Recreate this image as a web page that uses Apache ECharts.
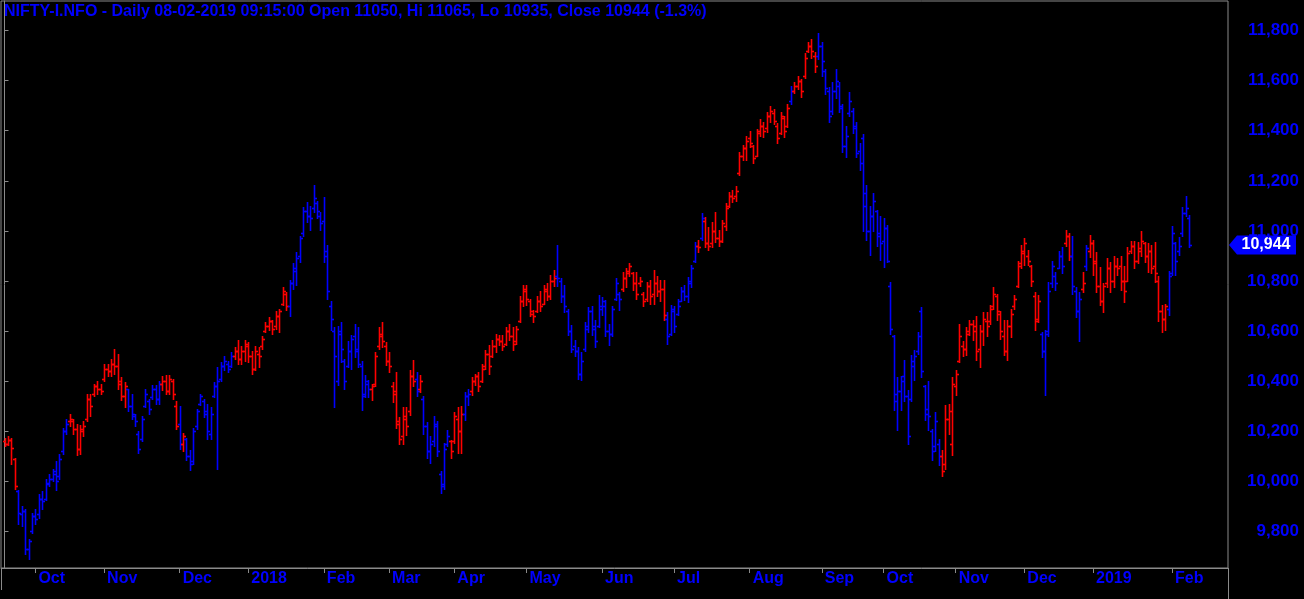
<!DOCTYPE html>
<html><head><meta charset="utf-8">
<script src="https://cdn.jsdelivr.net/npm/echarts@6/dist/echarts.min.js"></script>
<style>html,body{margin:0;padding:0;background:#000;}#c{width:1304px;height:599px;}</style>
</head><body><div id="c"></div>
<script>
const titleText = 'NIFTY-I.NFO - Daily 08-02-2019 09:15:00 Open 11050, Hi 11065, Lo 10935, Close 10944 (-1.3%)';

const opens = [10160,10150,10165,10090,9960,9870,9880,9730,9800,9860,
9870,9930,9930,9995,10010,10040,10020,10120,10200,10240,
10240,10210,10130,10200,10250,10330,10350,10380,10370,10410,
10450,10440,10470,10460,10400,10340,10370,10300,10260,10190,
10170,10300,10320,10335,10370,10330,10390,10400,10360,10400,
10300,10230,10150,10170,10100,10080,10220,10310,10320,10280,
10190,10340,10380,10410,10460,10470,10460,10500,10520,10490,
10520,10540,10500,10450,10510,10540,10600,10620,10640,10620,
10660,10710,10750,10700,10790,10840,10900,10990,11080,11060,
11090,11110,11060,11040,10920,10700,10600,10400,10600,10480,
10460,10520,10580,10530,10460,10350,10390,10370,10390,10540,
10590,10540,10480,10380,10360,10230,10180,10250,10280,10420,
10410,10370,10330,10220,10120,10160,10220,10030,9990,10150,
10160,10160,10250,10200,10270,10340,10360,10400,10420,10400,
10460,10510,10500,10540,10570,10560,10550,10600,10580,10560,
10640,10720,10770,10720,10670,10680,10720,10710,10760,10740,
10800,10820,10800,10740,10680,10600,10540,10520,10430,10530,
10620,10680,10610,10620,10700,10700,10600,10590,10730,10750,
10770,10810,10840,10830,10790,10790,10750,10730,10780,10750,
10790,10760,10770,10650,10590,10680,10670,10720,10760,10740,
10790,10880,10940,10970,11040,10950,10950,11000,10970,10960,
11020,11100,11140,11140,11230,11300,11330,11370,11340,11300,
11400,11420,11410,11460,11470,11420,11390,11450,11420,11520,
11560,11580,11600,11620,11720,11740,11700,11700,11740,11640,
11560,11480,11560,11580,11490,11340,11470,11480,11420,11320,
11370,11150,11000,11060,11080,10990,10960,11010,10780,10580,
10350,10360,10420,10340,10330,10460,10520,10680,10380,10270,
10200,10140,10150,10100,10070,10250,10150,10380,10480,10540,
10530,10600,10630,10620,10530,10600,10640,10640,10700,10740,
10670,10580,10520,10620,10700,10780,10870,10920,10900,10860,
10740,10650,10590,10520,10600,10790,10820,10850,10900,10950,
10980,10900,10760,10680,10770,10860,10920,10950,10880,10780,
10720,10790,10850,10800,10860,10860,10800,10800,10920,10940,
10880,10920,10950,10900,10920,10860,10800,10680,10650,10690,
10830,10950,10920,10990,11070,11050];

const highs = [10175,10180,10175,10095,9965,9900,9890,9770,9875,9890,
9950,9960,10010,10030,10050,10080,10110,10215,10250,10270,
10250,10230,10225,10240,10350,10350,10390,10400,10390,10470,
10470,10490,10530,10510,10415,10395,10370,10350,10270,10200,
10260,10370,10330,10385,10385,10400,10420,10425,10425,10410,
10320,10300,10195,10175,10125,10215,10290,10350,10330,10310,
10295,10395,10455,10475,10500,10480,10515,10535,10565,10540,
10565,10555,10520,10540,10535,10580,10635,10655,10645,10680,
10690,10775,10755,10805,10870,10915,10980,11095,11115,11100,
11185,11120,11075,11135,10945,10720,10615,10620,10635,10490,
10560,10585,10630,10615,10480,10425,10405,10390,10515,10615,
10635,10555,10515,10395,10435,10255,10295,10295,10445,10485,
10435,10425,10340,10235,10180,10260,10240,10040,10155,10205,
10165,10275,10295,10300,10355,10370,10415,10430,10435,10470,
10525,10545,10565,10590,10585,10585,10615,10630,10615,10620,
10740,10785,10785,10730,10685,10740,10760,10785,10790,10825,
10845,10945,10810,10785,10690,10625,10565,10535,10515,10635,
10695,10700,10645,10745,10735,10725,10630,10700,10810,10755,
10835,10850,10870,10835,10835,10815,10755,10795,10805,10845,
10820,10805,10805,10675,10705,10700,10730,10775,10785,10815,
10865,10955,10965,11070,11055,11015,11035,11075,11005,11045,
11110,11155,11165,11180,11315,11345,11380,11400,11345,11405,
11445,11435,11475,11500,11485,11430,11475,11460,11505,11580,
11595,11620,11605,11710,11755,11765,11715,11790,11755,11645,
11575,11595,11645,11595,11505,11420,11555,11490,11435,11350,
11385,11185,11100,11150,11085,11060,11050,11025,10795,10585,
10415,10420,10485,10365,10505,10525,10595,10695,10385,10400,
10210,10275,10170,10125,10305,10310,10415,10445,10630,10560,
10615,10645,10645,10660,10625,10675,10675,10705,10775,10750,
10680,10645,10645,10690,10745,10880,10945,10970,10925,10865,
10755,10745,10595,10605,10795,10880,10835,10920,10935,11005,
10990,10980,10775,10755,10835,10945,10985,10965,10915,10855,
10790,10890,10875,10900,10890,10900,10860,10935,10960,10960,
10955,11000,10955,10950,10945,10955,10820,10705,10710,10840,
11020,10955,10975,11095,11140,11065];

const lows = [10140,10145,10070,9970,9830,9820,9710,9690,9795,9830,
9855,9890,9925,9980,10000,9965,10010,10110,10190,10220,
10190,10105,10110,10180,10240,10260,10340,10350,10350,10400,
10420,10420,10430,10370,10325,10295,10280,10250,10220,10115,
10160,10295,10270,10330,10310,10310,10365,10350,10350,10330,
10210,10130,10120,10085,10045,10070,10210,10305,10255,10170,
10170,10335,10050,10400,10445,10435,10455,10490,10470,10470,
10480,10475,10430,10445,10455,10530,10595,10605,10590,10610,
10595,10705,10685,10660,10770,10785,10875,10980,11035,11005,
11075,11050,11005,10875,10730,10605,10295,10385,10475,10370,
10455,10450,10495,10455,10285,10335,10335,10325,10380,10530,
10535,10465,10435,10315,10215,10150,10150,10185,10265,10380,
10340,10355,10190,10095,10075,10140,10100,9955,9970,10140,
10095,10155,10115,10115,10245,10305,10345,10385,10360,10395,
10450,10430,10495,10515,10545,10525,10545,10565,10525,10550,
10635,10700,10705,10660,10635,10675,10680,10710,10725,10730,
10780,10780,10715,10675,10585,10515,10500,10410,10405,10520,
10595,10585,10535,10615,10665,10580,10545,10580,10725,10685,
10760,10775,10820,10765,10730,10780,10700,10720,10710,10710,
10740,10720,10645,10550,10585,10595,10665,10720,10725,10715,
10775,10875,10915,10965,10935,10925,10935,10955,10940,10955,
11005,11095,11115,11120,11225,11285,11285,11335,11270,11300,
11380,11375,11395,11435,11425,11350,11385,11375,11415,11505,
11550,11565,11535,11610,11715,11690,11635,11685,11620,11545,
11435,11465,11530,11475,11315,11295,11460,11390,11295,11245,
11000,10965,10905,11000,10940,10885,10855,10875,10590,10285,
10205,10285,10320,10150,10320,10405,10510,10415,10245,10205,
10085,10120,10065,10020,10050,10190,10105,10345,10475,10500,
10505,10585,10565,10485,10455,10545,10580,10630,10690,10645,
10570,10505,10485,10575,10690,10775,10850,10865,10865,10780,
10605,10635,10495,10345,10580,10775,10765,10850,10830,10940,
10885,10750,10655,10560,10755,10845,10895,10825,10755,10705,
10675,10775,10755,10775,10825,10765,10715,10800,10910,10850,
10870,10900,10875,10835,10830,10795,10640,10595,10605,10665,
10825,10825,10905,10980,11060,10935];

const closes = [10150,10165,10135,9980,9875,9880,9730,9760,9860,9850,
9930,9920,9990,10010,10030,10000,10090,10200,10230,10250,
10210,10130,10210,10220,10330,10300,10380,10370,10360,10450,
10440,10470,10460,10390,10340,10380,10300,10270,10240,10130,
10250,10350,10290,10370,10330,10390,10400,10360,10410,10350,
10220,10150,10180,10100,10070,10200,10280,10340,10270,10200,
10270,10380,10400,10460,10480,10450,10500,10520,10490,10520,
10550,10500,10450,10520,10500,10570,10620,10640,10610,10660,
10680,10760,10700,10790,10850,10890,10970,11080,11060,11050,
11130,11080,11030,10900,10760,10650,10500,10590,10530,10400,
10520,10570,10520,10470,10340,10400,10370,10380,10500,10580,
10560,10480,10460,10350,10240,10170,10260,10220,10420,10400,
10360,10400,10220,10120,10150,10230,10120,9980,10130,10180,
10120,10260,10200,10270,10340,10350,10400,10420,10380,10450,
10510,10460,10540,10570,10560,10540,10600,10580,10550,10610,
10720,10760,10730,10680,10660,10720,10700,10770,10740,10800,
10810,10810,10740,10700,10600,10530,10520,10430,10480,10610,
10680,10620,10560,10690,10720,10600,10590,10690,10790,10730,
10810,10830,10860,10790,10750,10800,10720,10780,10740,10790,
10760,10770,10665,10580,10690,10620,10700,10760,10740,10800,
10850,10940,10935,11050,10950,10940,11000,10970,10960,11030,
11090,11140,11130,11160,11300,11330,11360,11350,11290,11390,
11420,11400,11460,11480,11440,11370,11460,11400,11490,11560,
11580,11600,11560,11690,11740,11720,11660,11740,11680,11570,
11460,11560,11600,11500,11340,11380,11520,11410,11310,11270,
11100,11000,11060,11120,10980,10950,11010,10880,10610,10320,
10360,10400,10340,10180,10480,10500,10580,10440,10290,10260,
10120,10240,10100,10040,10250,10280,10390,10430,10580,10530,
10590,10630,10600,10520,10600,10650,10620,10690,10750,10680,
10600,10520,10620,10670,10730,10860,10910,10950,10880,10800,
10640,10720,10520,10590,10760,10860,10790,10900,10860,10980,
10900,10780,10680,10730,10790,10930,10950,10870,10780,10720,
10780,10850,10800,10860,10850,10800,10760,10910,10940,10880,
10930,10960,10900,10920,10850,10830,10680,10650,10700,10820,
10990,10880,10940,11070,11090,10944];

// bar colour signal in runs: [number of bars, 'R' red / 'B' blue]
const trendRuns = [[4,'R'],[15,'B'],[17,'R'],[10,'B'],[5,'R'],[1,'B'],[1,'R'],[14,'B'],[16,'R'],[24,'B'],
[13,'R'],[1,'B'],[1,'R'],[8,'B'],[4,'R'],[2,'B'],[25,'R'],[19,'B'],[13,'R'],[9,'B'],[1,'R'],[1,'B'],
[25,'R'],[1,'B'],[7,'R'],[36,'B'],[29,'R'],[7,'B'],[2,'R'],[3,'B'],[1,'R'],[1,'B'],[23,'R'],[7,'B']];

const monthTickIdx = [9,29,51,71,93,112,131,152,174,195,217,238,256,277,297,317,340];
const monthLabels = ['Oct','Nov','Dec','2018','Feb','Mar','Apr','May','Jun','Jul','Aug','Sep','Oct','Nov','Dec','2019','Feb'];
const priceTicks = [9800,10000,10200,10400,10600,10800,11000,11200,11400,11600,11800];

const BLUE = '#0000ff', RED = '#ff0000', GRAY = '#8a8a8a';
const FONT = 'Liberation Sans, Arial, sans-serif';

const trend = [];
trendRuns.forEach(([n, t]) => { for (let k = 0; k < n; k++) trend.push(t); });
const data = opens.map((o, i) => [i, o, highs[i], lows[i], closes[i], trend[i] === 'R' ? 1 : 0]);
const lastClose = closes[closes.length - 1];

const chart = echarts.init(document.getElementById('c'), null, {renderer: 'canvas'});
chart.setOption({
  backgroundColor: '#000',
  animation: false,
  title: {
    text: titleText, left: 4, top: 4, padding: 0,
    textStyle: {color: BLUE, fontSize: 16, fontWeight: 'bold', fontFamily: FONT}
  },
  grid: {left: 1, top: 1, right: 76, bottom: 31, show: true, borderColor: GRAY, borderWidth: 1, backgroundColor: '#000'},
  xAxis: {
    type: 'value', min: -1.02, max: 356.3, position: 'bottom',
    axisLine: {show: true, onZero: false, lineStyle: {color: GRAY, width: 1}},
    axisTick: {show: true, customValues: monthTickIdx, length: 5, lineStyle: {color: GRAY}},
    axisLabel: {
      customValues: monthTickIdx, color: BLUE, fontSize: 16, fontWeight: 'bold', fontFamily: FONT,
      align: 'left', margin: 3, padding: [0, 0, 0, 3],
      formatter: v => monthLabels[monthTickIdx.indexOf(v)] || ''
    },
    splitLine: {show: false}
  },
  yAxis: {
    type: 'value', position: 'right', min: 9654, max: 11918, scale: true,
    axisLine: {show: true, lineStyle: {color: GRAY, width: 1}},
    axisTick: {show: true, customValues: priceTicks, length: 4, lineStyle: {color: GRAY}},
    axisLabel: {
      customValues: priceTicks, color: BLUE, fontSize: 17, fontWeight: 'bold', fontFamily: FONT,
      align: 'right', margin: 71,
      formatter: v => v.toLocaleString('en-US')
    },
    splitLine: {show: false}
  },
  series: [{
    type: 'custom',
    clip: true,
    data: data,
    encode: {x: 0, y: [1, 2, 3, 4]},
    renderItem: function (params, api) {
      const i = api.value(0);
      const o = api.coord([i, api.value(1)]);
      const h = api.coord([i, api.value(2)]);
      const l = api.coord([i, api.value(3)]);
      const c = api.coord([i, api.value(4)]);
      const col = api.value(5) ? RED : BLUE;
      const x = Math.round(o[0]) + 0.5;
      const yo = Math.round(o[1]) + 0.5, yc = Math.round(c[1]) + 0.5;
      const st = {stroke: col, lineWidth: 1.6};
      return {
        type: 'group',
        children: [
          {type: 'line', shape: {x1: x, y1: Math.round(h[1]), x2: x, y2: Math.round(l[1]) + 1}, style: st},
          {type: 'line', shape: {x1: x - 2.5, y1: yo, x2: x, y2: yo}, style: st},
          {type: 'line', shape: {x1: x, y1: yc, x2: x + 2.5, y2: yc}, style: st}
        ]
      };
    }
  }]
});

const yLast = chart.convertToPixel({yAxisIndex: 0}, lastClose);
const axisX = chart.convertToPixel({xAxisIndex: 0}, 356.3);
const bottomY = chart.convertToPixel({yAxisIndex: 0}, 9654);
chart.setOption({
  graphic: [
    {type: 'line', shape: {x1: Math.round(axisX) + 0.5, y1: bottomY, x2: Math.round(axisX) + 0.5, y2: 599}, style: {stroke: GRAY, lineWidth: 1}},
    {type: 'line', shape: {x1: 1.5, y1: bottomY, x2: 1.5, y2: 590}, style: {stroke: GRAY, lineWidth: 1}},
    {type: 'polygon', shape: {points: [[axisX + 1, yLast], [axisX + 9, yLast - 9.5], [1296, yLast - 9.5], [1296, yLast + 9.5], [axisX + 9, yLast + 9.5]]}, style: {fill: BLUE}},
    {type: 'text', x: 1266, y: yLast, style: {text: lastClose.toLocaleString('en-US'), fill: '#fff', font: 'bold 16px ' + FONT, textAlign: 'center', textVerticalAlign: 'middle'}}
  ]
});
</script></body></html>
